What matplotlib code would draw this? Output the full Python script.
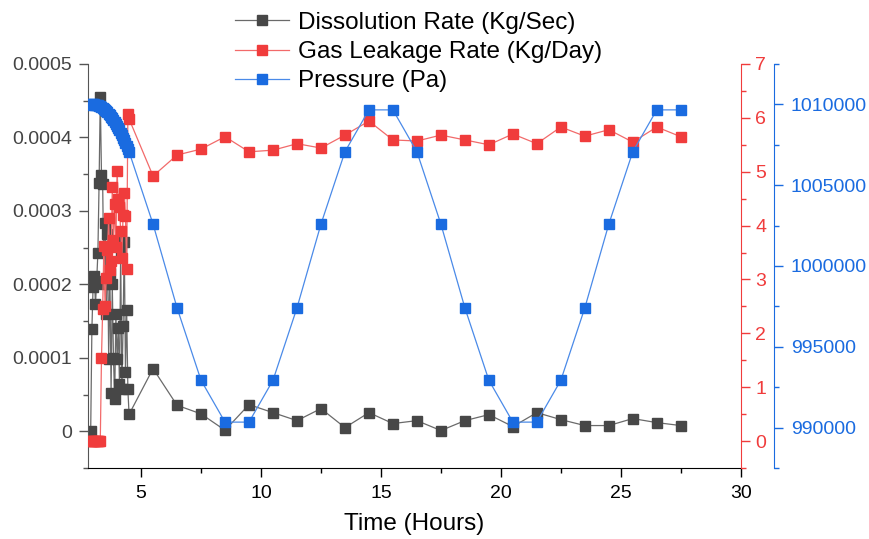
import matplotlib.pyplot as plt
from matplotlib.ticker import MultipleLocator, FuncFormatter

plt.rcParams['font.family'] = ['Liberation Sans', 'DejaVu Sans']

# time steps (hours): dense early part, then hourly output
time_dense = [2.90, 2.95, 3.00, 3.05, 3.10, 3.15, 3.20, 3.25, 3.30, 3.35, 3.40,
              3.45, 3.50, 3.55, 3.60, 3.65, 3.70, 3.75, 3.80, 3.85, 3.90, 3.95,
              4.00, 4.05, 4.10, 4.15, 4.20, 4.25, 4.30, 4.35, 4.40, 4.45, 4.50]
time_hourly = [5.5, 6.5, 7.5, 8.5, 9.5, 10.5, 11.5, 12.5, 13.5, 14.5, 15.5, 16.5,
               17.5, 18.5, 19.5, 20.5, 21.5, 22.5, 23.5, 24.5, 25.5, 26.5, 27.5]
time = time_dense + time_hourly

dissolution = [0.0, 0.000139, 0.000197, 0.000211, 0.000173, 0.000205, 0.000243,
               0.000338, 0.000455, 0.000349, 0.000336, 0.000200, 0.000284, 0.000160,
               0.000268, 0.000099, 0.000215, 0.000052, 0.000200, 0.000100, 0.000044,
               0.000159, 0.000098, 0.000141, 0.000064, 0.000245, 0.000057, 0.000143,
               0.000257, 0.000081, 0.000165, 0.000057, 0.000023,
               0.0000853, 0.0000354, 0.0000237, 0.0000014, 0.0000363, 0.0000254,
               0.0000145, 0.0000309, 0.0000050, 0.0000254, 0.0000105, 0.0000145,
               0.0000010, 0.0000145, 0.0000227, 0.0000064, 0.0000254, 0.0000159,
               0.0000078, 0.0000078, 0.0000173, 0.0000118, 0.0000078]

leakage = [0.0, 0.0, 0.0, 0.0, 0.0, 0.0, 0.0, 0.0, 0.0, 1.55, 2.45,
           3.62, 2.50, 3.03, 3.55, 4.15, 3.18, 3.34, 4.71, 3.74, 4.40, 3.60,
           5.02, 4.50, 4.35, 3.90, 3.40, 4.20, 4.61, 4.18, 3.20, 6.08, 5.98,
           4.92, 5.31, 5.42, 5.65, 5.37, 5.40, 5.52, 5.44, 5.68, 5.94, 5.59,
           5.57, 5.68, 5.59, 5.50, 5.70, 5.52, 5.83, 5.66, 5.78, 5.55, 5.83, 5.65]

pressure = [1009990, 1010000, 1010000, 1010000, 1009990, 1009970, 1009945, 1009915,
            1009880, 1009830, 1009780, 1009725, 1009660, 1009590, 1009510, 1009425,
            1009335, 1009240, 1009135, 1009025, 1008910, 1008790, 1008660, 1008525,
            1008385, 1008240, 1008090, 1007935, 1007770, 1007605, 1007430, 1007255,
            1007070,
            1002590, 997410, 992930, 990340, 990340, 992930, 997410, 1002590,
            1007070, 1009660, 1009660, 1007070, 1002590, 997410, 992930, 990340,
            990340, 992930, 997410, 1002590, 1007070, 1009660, 1009660]

c_dark = '#474747'
c_red = '#f03c3c'
c_blue = '#1a6be0'

fig = plt.figure(figsize=(8.69, 5.39), dpi=100)
ax = fig.add_axes([0.1016, 0.1317, 0.7508, 0.7496])
ax2 = ax.twinx()
ax3 = ax.twinx()

l1, = ax.plot(time, dissolution, color='#6a6a6a', lw=0.9, marker='s', ms=6.5,
              mfc=c_dark, mec=c_dark, label='Dissolution Rate (Kg/Sec)')
l2, = ax2.plot(time, leakage, color='#f26a6a', lw=0.9, marker='s', ms=6.5,
               mfc=c_red, mec=c_red, label='Gas Leakage Rate (Kg/Day)')
l3, = ax3.plot(time, pressure, color='#4a8ae8', lw=0.9, marker='s', ms=6.5,
               mfc=c_blue, mec=c_blue, label='Pressure (Pa)')

ax.set_xlim(2.8, 30)
ax.set_ylim(-0.00005, 0.0005)
ax2.set_ylim(-0.5, 7)
ax3.set_ylim(987500, 1012500)

ax.xaxis.set_major_locator(MultipleLocator(5))
ax.xaxis.set_minor_locator(MultipleLocator(2.5))
ax.yaxis.set_major_locator(MultipleLocator(0.0001))
ax.yaxis.set_minor_locator(MultipleLocator(0.00005))
ax.yaxis.set_major_formatter(FuncFormatter(lambda v, p: '0' if abs(v) < 1e-12 else f'{v:.4f}'))
ax2.yaxis.set_major_locator(MultipleLocator(1))
ax2.yaxis.set_minor_locator(MultipleLocator(0.5))
ax3.yaxis.set_major_locator(MultipleLocator(5000))
ax3.yaxis.set_minor_locator(MultipleLocator(2500))
ax3.yaxis.set_major_formatter(FuncFormatter(lambda v, p: f'{v:.0f}'))

for s in ['top', 'right']:
    ax.spines[s].set_visible(False)
for a in (ax2, ax3):
    for s in ['top', 'left', 'bottom']:
        a.spines[s].set_visible(False)
ax.spines['left'].set_color('#555555')
ax.spines['bottom'].set_color('black')
ax2.spines['right'].set_color(c_red)
ax3.spines['right'].set_color(c_blue)
ax3.spines['right'].set_position(('outward', 24))

ax.tick_params(axis='x', which='major', length=6.5, width=1, colors='black',
               labelsize=14, pad=6)
ax.tick_params(axis='x', which='minor', length=3.5, width=1, colors='black')
ax.tick_params(axis='y', which='major', length=6.5, width=1, colors='#555555',
               labelcolor='#444444', labelsize=14, pad=5)
ax.tick_params(axis='y', which='minor', length=3.5, width=1, colors='#555555')
ax2.tick_params(axis='y', which='major', length=6.5, width=1, colors=c_red,
                labelsize=14, pad=4)
ax2.tick_params(axis='y', which='minor', length=3.5, width=1, colors=c_red)
ax3.tick_params(axis='y', which='major', length=6.5, width=1, colors=c_blue,
                labelsize=14, pad=5.5)
ax3.tick_params(axis='y', which='minor', length=3.5, width=1, colors=c_blue)

ax.set_xlabel('Time (Hours)', fontsize=17.5, labelpad=8)

fig.legend(handles=[l1, l2, l3], loc='upper center', bbox_to_anchor=(0.482, 1.003),
           frameon=False, fontsize=17.5, numpoints=1, handlelength=2.2,
           handletextpad=0.4, labelspacing=0.3, borderaxespad=0.15)

fig.savefig('out.png', dpi=100)
plt.close(fig)
